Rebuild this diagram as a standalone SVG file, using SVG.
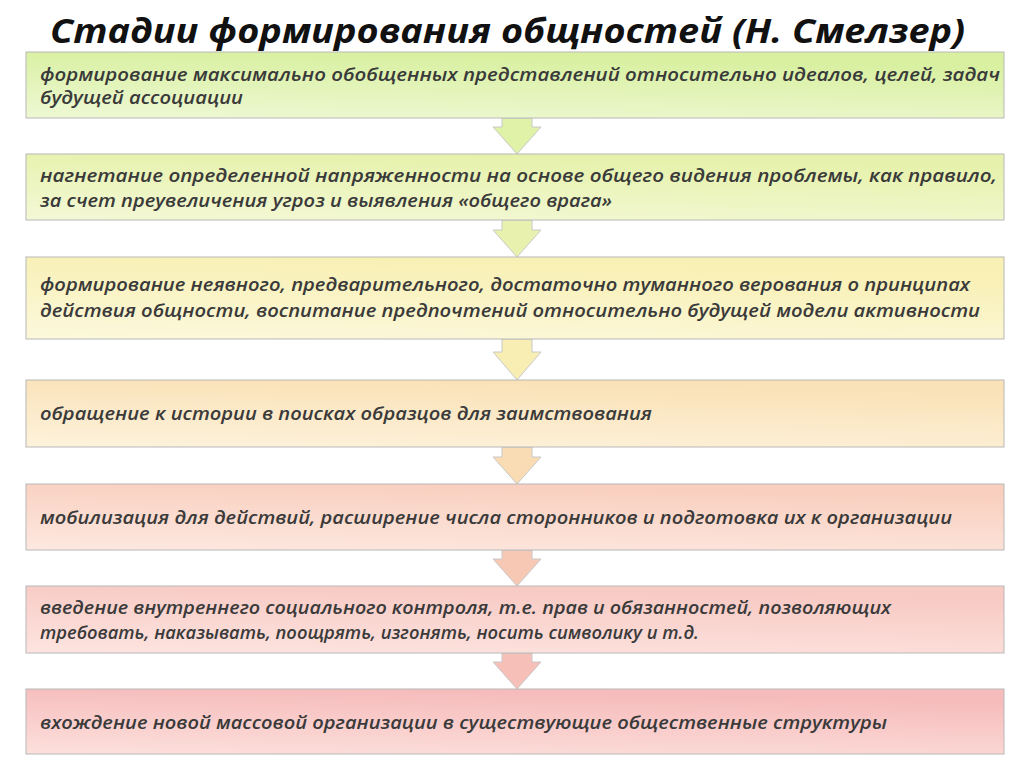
<svg xmlns="http://www.w3.org/2000/svg" width="1024" height="767" viewBox="0 0 1024 767">
<defs>
<linearGradient id="g1" x1="0" y1="1" x2="0.3" y2="0"><stop offset="0" stop-color="#eef8d4"/><stop offset="1" stop-color="#d8f0a0"/></linearGradient>
<linearGradient id="g2" x1="0" y1="1" x2="0.3" y2="0"><stop offset="0" stop-color="#f4f8d6"/><stop offset="1" stop-color="#e6f2ac"/></linearGradient>
<linearGradient id="g3" x1="0" y1="1" x2="0.3" y2="0"><stop offset="0" stop-color="#fcf8dc"/><stop offset="1" stop-color="#f8f0b4"/></linearGradient>
<linearGradient id="g4" x1="0" y1="1" x2="0.3" y2="0"><stop offset="0" stop-color="#fdf2dc"/><stop offset="1" stop-color="#fae2b8"/></linearGradient>
<linearGradient id="g5" x1="0" y1="1" x2="0.3" y2="0"><stop offset="0" stop-color="#fde8e0"/><stop offset="1" stop-color="#f9d0c0"/></linearGradient>
<linearGradient id="g6" x1="0" y1="1" x2="0.3" y2="0"><stop offset="0" stop-color="#fde4e0"/><stop offset="1" stop-color="#f8cac4"/></linearGradient>
<linearGradient id="g7" x1="0" y1="1" x2="0.3" y2="0"><stop offset="0" stop-color="#fce0dc"/><stop offset="1" stop-color="#f6bcbc"/></linearGradient>
</defs>
<style>
.b{stroke:#b8b8b8;stroke-width:1}
.t{font-family:"Open Sans","DejaVu Sans",sans-serif;font-style:italic;font-weight:600;font-size:18.5px;fill:#3a3a3a}
.h{font-family:"Open Sans","DejaVu Sans",sans-serif;font-style:italic;font-weight:bold;font-size:34px;fill:#111}
.a{stroke:#c8c8c8;stroke-width:1}
</style>
<rect width="1024" height="767" fill="#fff"/>
<text class="h" x="50" y="43" textLength="915" lengthAdjust="spacingAndGlyphs">Стадии формирования общностей (Н. Смелзер)</text>
<g id="connectors">
<polygon class="a" fill="#dff2a8" points="502,118 532,118 532,127 541,127 517,154 493,127 502,127"/>
<polygon class="a" fill="#e8f2ae" points="502,220 532,220 532,230 541,230 517,257 493,230 502,230"/>
<polygon class="a" fill="#f8eeb4" points="502,339 532,339 532,352 541,352 517,380 493,352 502,352"/>
<polygon class="a" fill="#f9dcb4" points="502,447 532,447 532,457 541,457 517,484 493,457 502,457"/>
<polygon class="a" fill="#f7c8b4" points="502,550 532,550 532,559 541,559 517,586 493,559 502,559"/>
<polygon class="a" fill="#f6c0b8" points="502,653 532,653 532,662 541,662 517,689 493,662 502,662"/>
</g>
<g id="n1"><rect class="b" x="26" y="52" width="978" height="66" fill="url(#g1)"/>
<text class="t" x="40" y="81" textLength="960" lengthAdjust="spacingAndGlyphs">формирование максимально обобщенных представлений относительно идеалов, целей, задач</text>
<text class="t" x="40" y="104" textLength="203" lengthAdjust="spacingAndGlyphs">будущей ассоциации</text></g>
<g id="n2"><rect class="b" x="26" y="154" width="978" height="66" fill="url(#g2)"/>
<text class="t" x="40" y="182" textLength="957" lengthAdjust="spacingAndGlyphs">нагнетание определенной напряженности на основе общего видения проблемы, как правило,</text>
<text class="t" x="40" y="207" textLength="572" lengthAdjust="spacingAndGlyphs">за счет преувеличения угроз и выявления «общего врага»</text></g>
<g id="n3"><rect class="b" x="26" y="257" width="978" height="82" fill="url(#g3)"/>
<text class="t" x="40" y="291" textLength="930" lengthAdjust="spacingAndGlyphs">формирование неявного, предварительного, достаточно туманного верования о принципах</text>
<text class="t" x="40" y="317" textLength="940" lengthAdjust="spacingAndGlyphs">действия общности, воспитание предпочтений относительно будущей модели активности</text></g>
<g id="n4"><rect class="b" x="26" y="380" width="978" height="67" fill="url(#g4)"/>
<text class="t" x="40" y="420" textLength="612" lengthAdjust="spacingAndGlyphs">обращение к истории в поисках образцов для заимствования</text></g>
<g id="n5"><rect class="b" x="26" y="484" width="978" height="66" fill="url(#g5)"/>
<text class="t" x="40" y="524" textLength="912" lengthAdjust="spacingAndGlyphs">мобилизация для действий, расширение числа сторонников и подготовка их к организации</text></g>
<g id="n6"><rect class="b" x="26" y="586" width="978" height="67" fill="url(#g6)"/>
<text class="t" x="40" y="614" textLength="851" lengthAdjust="spacingAndGlyphs">введение внутреннего социального контроля, т.е. прав и обязанностей, позволяющих</text>
<text class="t" x="40" y="639" textLength="659" lengthAdjust="spacingAndGlyphs">требовать, наказывать, поощрять, изгонять, носить символику и т.д.</text></g>
<g id="n7"><rect class="b" x="26" y="689" width="978" height="65" fill="url(#g7)"/>
<text class="t" x="40" y="729" textLength="847" lengthAdjust="spacingAndGlyphs">вхождение новой массовой организации в существующие общественные структуры</text></g>
</svg>
